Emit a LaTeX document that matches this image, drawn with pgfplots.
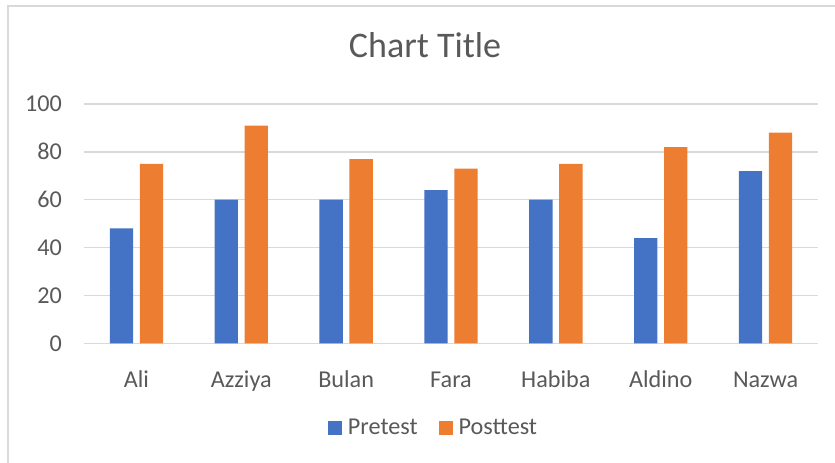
\documentclass[border=0pt]{standalone}
\usepackage{fontspec}
\setmainfont{Carlito}
\usepackage{pgfplots}
\pgfplotsset{compat=1.18}
\definecolor{cblue}{HTML}{4472C4}
\definecolor{corange}{HTML}{ED7D31}
\definecolor{cgrid}{HTML}{D9D9D9}
\definecolor{ctext}{HTML}{595959}
\begin{document}
\begin{tikzpicture}
\useasboundingbox (0,0) rectangle (835bp,463bp);
\draw[cgrid, line width=1.4bp] (8bp,-10bp) |- (850bp,457bp);
\node[anchor=base, text=ctext, inner sep=0pt, font=\fontsize{36bp}{40bp}\selectfont] at (425bp,405bp) {Chart Title};
\begin{axis}[
  at={(84bp,119.7bp)}, anchor=south west,
  scale only axis, width=734bp, height=239.3bp,
  ybar=6.7bp, bar width=23.3bp,
  xmin=-0.5, xmax=6.5, ymin=0, ymax=100,
  xtick={0,1,2,3,4,5,6},
  xticklabels={Ali,Azziya,Bulan,Fara,Habiba,Aldino,Nazwa},
  ytick={0,20,40,60,80,100},
  ymajorgrids, grid style={cgrid, line width=1.3bp},
  axis line style={draw=none},
  major tick style={draw=none},
  /pgf/number format/assume math mode=true,
  tick label style={text=ctext, font=\fontsize{24.2bp}{28bp}\selectfont, inner sep=0pt},
  xticklabel style={anchor=base, yshift=-39.7bp},
  yticklabel style={anchor=base east, xshift=-22bp, yshift=-7.8bp},
  legend columns=2,
  legend image code/.code={\path[#1, draw=none] (0bp,-7bp) rectangle (14bp,7bp);},
  legend style={at={(axis description cs:0.3324,-0.3519)}, anchor=west,
    draw=none, inner sep=0pt, outer sep=0pt, text=ctext,
    font=\fontsize{24.2bp}{28bp}\selectfont,
    nodes={inner sep=0pt},
    /tikz/every odd column/.append style={column sep=6bp},
    /tikz/every even column/.append style={column sep=21bp}},
]
\addplot[fill=cblue, draw=none] coordinates {(0,48) (1,60) (2,60) (3,64) (4,60) (5,44) (6,72)};
\addplot[fill=corange, draw=none] coordinates {(0,75) (1,91) (2,77) (3,73) (4,75) (5,82) (6,88)};
\legend{Pretest,Posttest}
\end{axis}
\end{tikzpicture}
\end{document}
